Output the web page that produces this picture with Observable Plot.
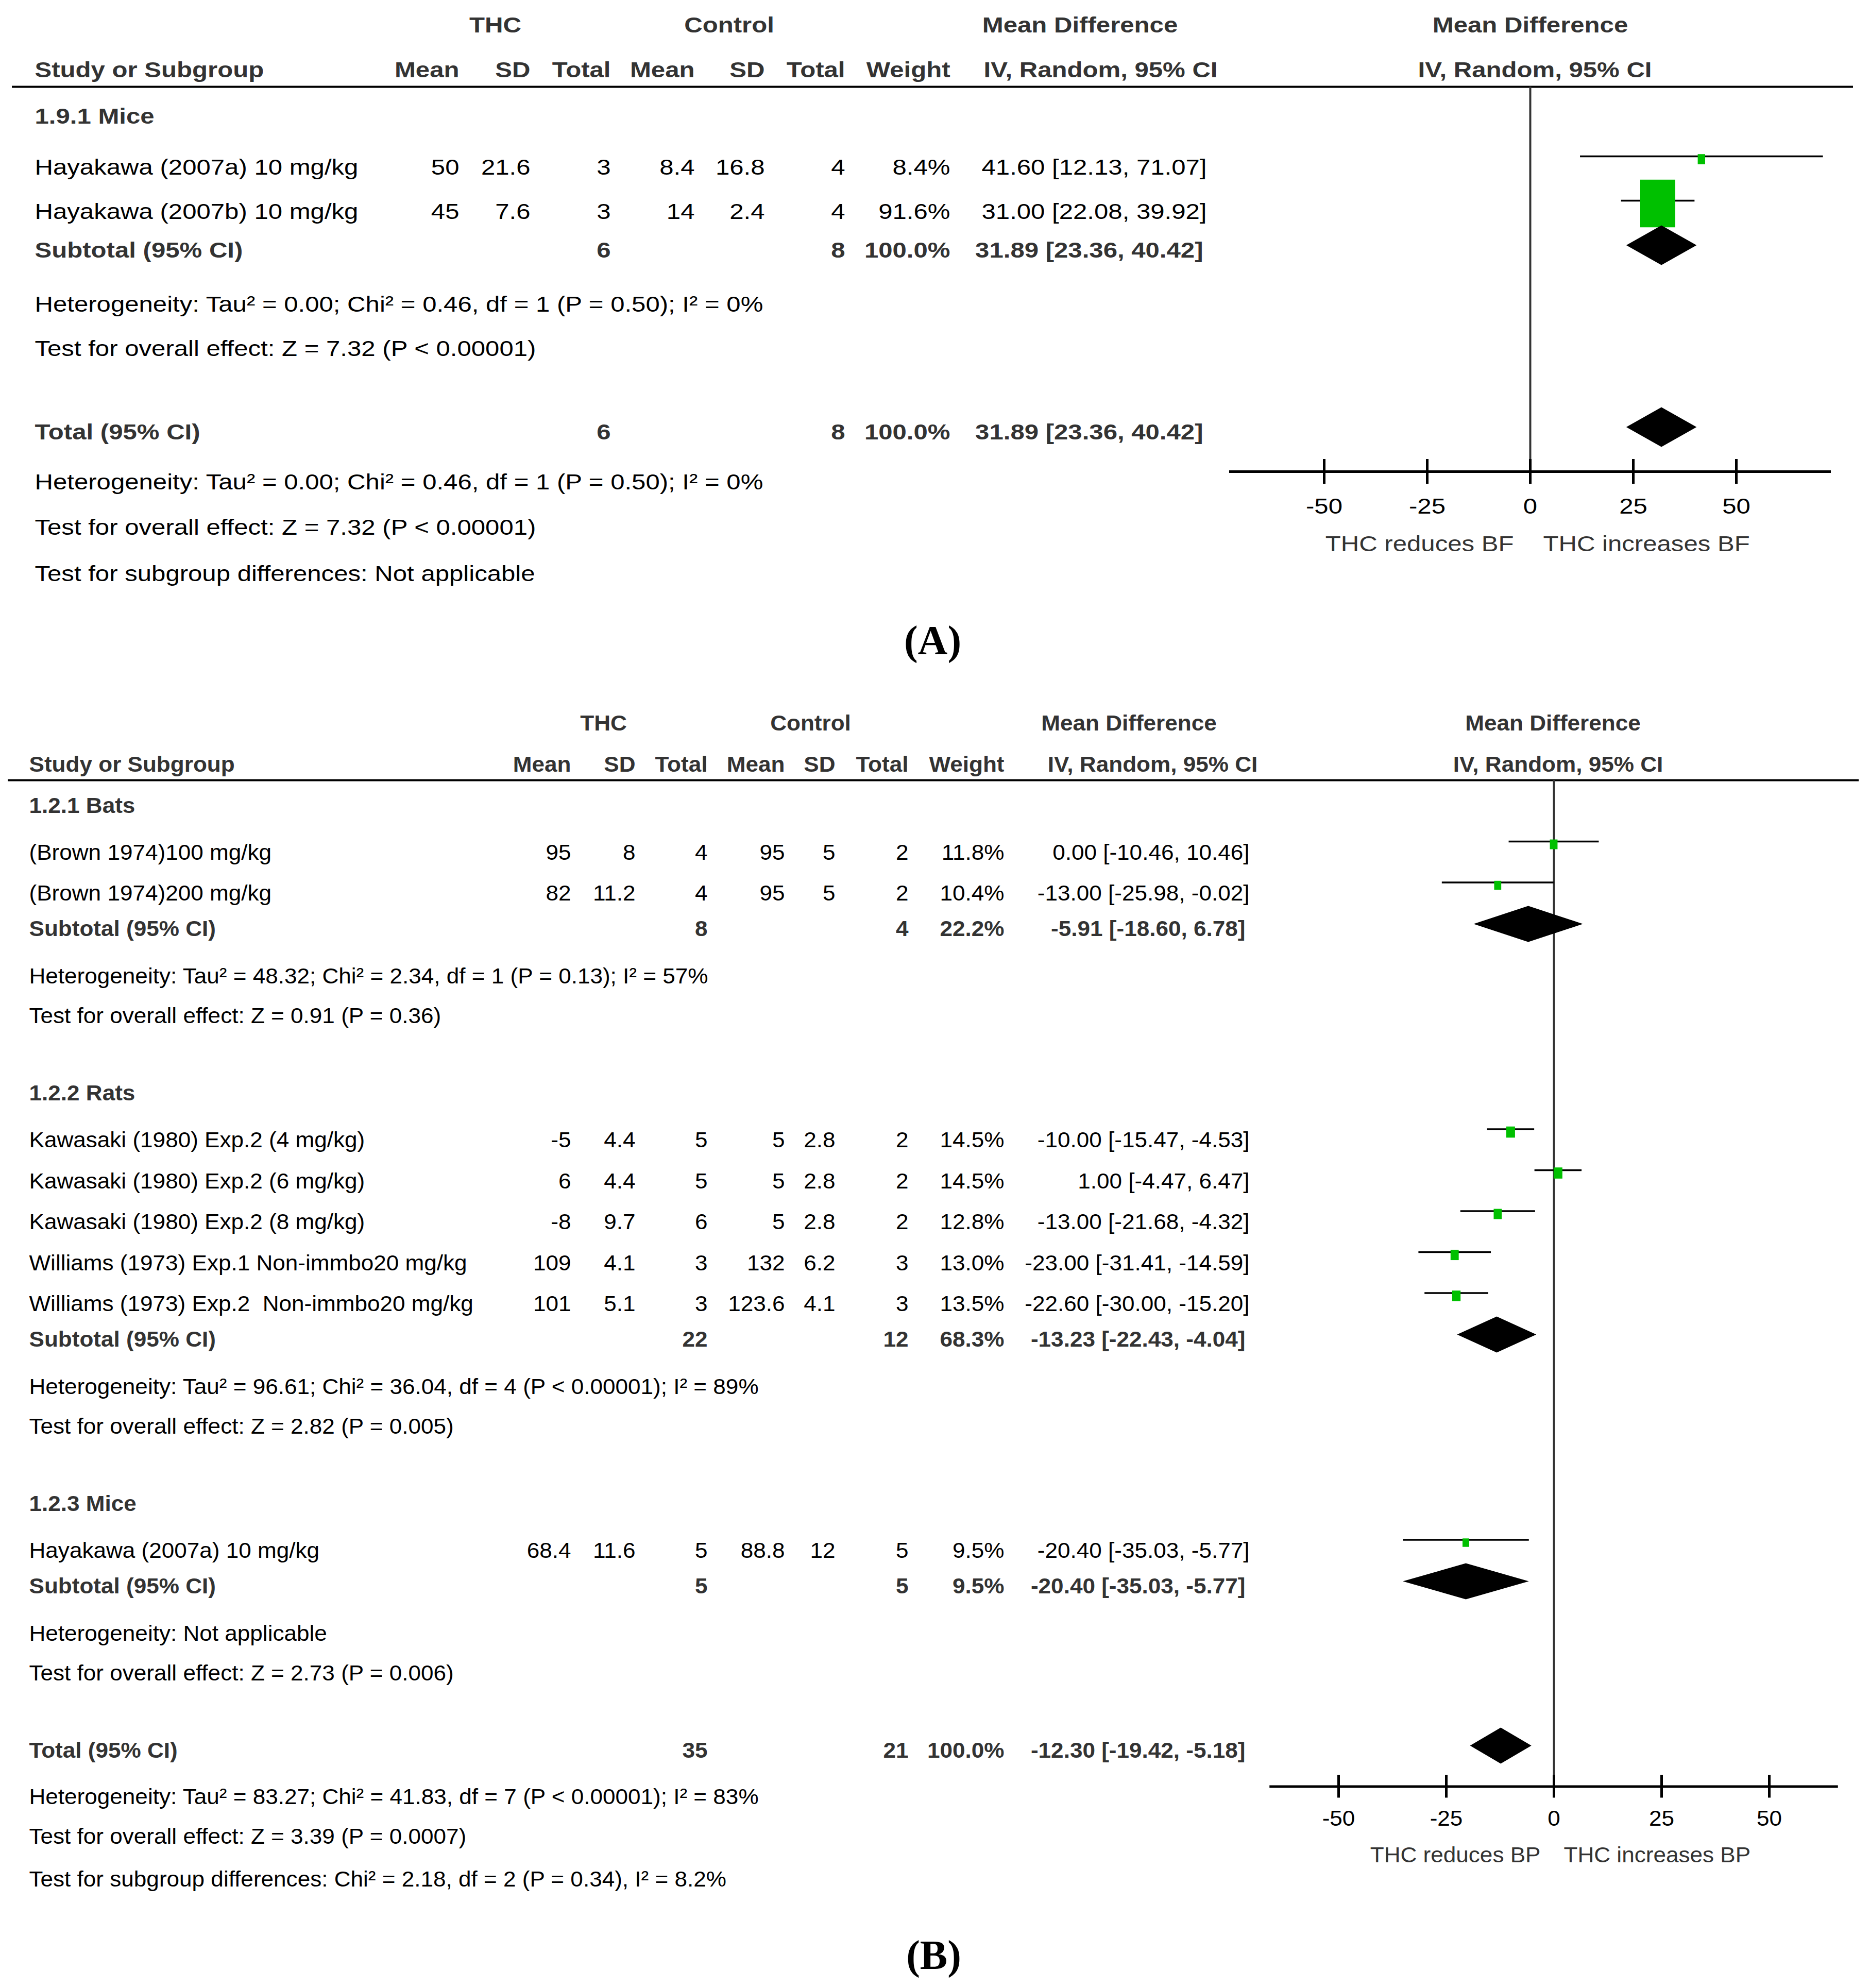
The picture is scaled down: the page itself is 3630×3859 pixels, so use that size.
<!DOCTYPE html>
<html><head><meta charset="utf-8">
<script src="https://cdn.jsdelivr.net/npm/d3@7"></script>
<script src="https://cdn.jsdelivr.net/npm/@observablehq/plot@0.6"></script>
<style>
html,body{margin:0;padding:0;background:#fff;}
#root{width:3630px;height:3859px;position:relative;overflow:hidden;background:#fff}
#root svg{display:block}
svg text{white-space:pre}
</style></head><body><div id="root"></div>
<script>
// ---------------- DATA: panel A (body fat) ----------------
const groupLabelsA = ["1.9.1 Mice"];
const studiesA = ["Hayakawa (2007a) 10 mg/kg", "Hayakawa (2007b) 10 mg/kg"];
const groupA = [0, 0];
const thcMeanA = [50, 45];
const thcSdA = [21.6, 7.6];
const thcNA = [3, 3];
const ctlMeanA = [8.4, 14];
const ctlSdA = [16.8, 2.4];
const ctlNA = [4, 4];
const weightA = [8.4, 91.6];
const mdA = [41.60, 31.00];
const loA = [12.13, 22.08];
const hiA = [71.07, 39.92];
const subThcNA = [6];
const subCtlNA = [8];
const subWeightA = [100.0];
const subMdA = [31.89];
const subLoA = [23.36];
const subHiA = [40.42];
const hetA = ["Heterogeneity: Tau² = 0.00; Chi² = 0.46, df = 1 (P = 0.50); I² = 0%"];
const testA = ["Test for overall effect: Z = 7.32 (P < 0.00001)"];
const totalA = [6, 8, 100.0, 31.89, 23.36, 40.42]; // thcN, ctlN, weight, md, lo, hi
const footA = ["Heterogeneity: Tau² = 0.00; Chi² = 0.46, df = 1 (P = 0.50); I² = 0%",
  "Test for overall effect: Z = 7.32 (P < 0.00001)",
  "Test for subgroup differences: Not applicable"];
const axisLabelsA = ["THC reduces BF", "THC increases BF"];

// ---------------- DATA: panel B (blood pressure) ----------------
const groupLabelsB = ["1.2.1 Bats", "1.2.2 Rats", "1.2.3 Mice"];
const studiesB = ["(Brown 1974)100 mg/kg", "(Brown 1974)200 mg/kg",
  "Kawasaki (1980) Exp.2 (4 mg/kg)", "Kawasaki (1980) Exp.2 (6 mg/kg)", "Kawasaki (1980) Exp.2 (8 mg/kg)",
  "Williams (1973) Exp.1 Non-immbo20 mg/kg", "Williams (1973) Exp.2  Non-immbo20 mg/kg",
  "Hayakawa (2007a) 10 mg/kg"];
const groupB = [0, 0, 1, 1, 1, 1, 1, 2];
const thcMeanB = [95, 82, -5, 6, -8, 109, 101, 68.4];
const thcSdB = [8, 11.2, 4.4, 4.4, 9.7, 4.1, 5.1, 11.6];
const thcNB = [4, 4, 5, 5, 6, 3, 3, 5];
const ctlMeanB = [95, 95, 5, 5, 5, 132, 123.6, 88.8];
const ctlSdB = [5, 5, 2.8, 2.8, 2.8, 6.2, 4.1, 12];
const ctlNB = [2, 2, 2, 2, 2, 3, 3, 5];
const weightB = [11.8, 10.4, 14.5, 14.5, 12.8, 13.0, 13.5, 9.5];
const mdB = [0.00, -13.00, -10.00, 1.00, -13.00, -23.00, -22.60, -20.40];
const loB = [-10.46, -25.98, -15.47, -4.47, -21.68, -31.41, -30.00, -35.03];
const hiB = [10.46, -0.02, -4.53, 6.47, -4.32, -14.59, -15.20, -5.77];
const subThcNB = [8, 22, 5];
const subCtlNB = [4, 12, 5];
const subWeightB = [22.2, 68.3, 9.5];
const subMdB = [-5.91, -13.23, -20.40];
const subLoB = [-18.60, -22.43, -35.03];
const subHiB = [6.78, -4.04, -5.77];
const hetB = ["Heterogeneity: Tau² = 48.32; Chi² = 2.34, df = 1 (P = 0.13); I² = 57%",
  "Heterogeneity: Tau² = 96.61; Chi² = 36.04, df = 4 (P < 0.00001); I² = 89%",
  "Heterogeneity: Not applicable"];
const testB = ["Test for overall effect: Z = 0.91 (P = 0.36)",
  "Test for overall effect: Z = 2.82 (P = 0.005)",
  "Test for overall effect: Z = 2.73 (P = 0.006)"];
const totalB = [35, 21, 100.0, -12.30, -19.42, -5.18];
const footB = ["Heterogeneity: Tau² = 83.27; Chi² = 41.83, df = 7 (P < 0.00001); I² = 83%",
  "Test for overall effect: Z = 3.39 (P = 0.0007)",
  "Test for subgroup differences: Chi² = 2.18, df = 2 (P = 0.34), I² = 8.2%"];
const axisLabelsB = ["THC reduces BP", "THC increases BP"];

const ticks = [-50, -25, 0, 25, 50];
const header1 = ["THC", "Control", "Mean Difference", "Mean Difference"];
const header2 = ["Mean", "SD", "Total", "Mean", "SD", "Total", "Weight"];
const ciHeader = "IV, Random, 95% CI";

// ---------------- LAYOUT ----------------
const FONT = "Liberation Sans, Arial, sans-serif";
const SERIF = "Liberation Serif, Times New Roman, serif";
const GREEN = "#00C000";
const BOLDC = "#333333";

const layoutA = {fs: 42, sx: 1.17, ml: 23, mr: 33, H: 1320, h1: 49, h2: 136, rule: 168, ruleLabel: 58,
  labelStudy: 99, studyStudy: 86, studySub: 75, subHet: 105, hetTest: 86, testLabel: 150,
  testTotal: 162, totalHet: 97, hetTest2: 88, testSub: 90,
  nameX: 67, cols: [891, 1029, 1185, 1348, 1484, 1640, 1844, 2342], boldCiShift: -7,
  thcC: 961, ctlC: 1415, mdC: 2096, ivC: 2136, fC: 2970, fIvC: 2979,
  xr: [2570, 3370], ext: 73, totalAxis: 76, tickLen: 24, tickLab: 68, axLab: 141, axGap: [32, 25],
  ciDy: -22, sqDy: -16, sqMax: 68, sqAspect: 1.36, diaDy: -10, dh: 38.5,
  panelX: 1810, panelY: 1244, panelFs: 80, panelLabel: "(A)"};
const layoutB = {fs: 42, sx: 1.05, ml: 15, mr: 22, H: 2539, h1: 84, h2: 164, rule: 194, ruleLabel: 50,
  labelStudy: 91, studyStudy: 79.5, studySub: 69, subHet: 92, hetTest: 77, testLabel: 150,
  testTotal: 150, totalHet: 90, hetTest2: 77, testSub: 83,
  nameX: 56, cols: [1108, 1233, 1373, 1523, 1621, 1763, 1949, 2425], boldCiShift: -8,
  thcC: 1171, ctlC: 1573, mdC: 2191, ivC: 2237, fC: 3014, fIvC: 3024,
  xr: [2598, 3434], ext: 66, totalAxis: 69, tickLen: 22, tickLab: 63, axLab: 134, axGap: [26, 19],
  ciDy: -22, sqDy: -16, sqMax: 17, sqAspect: 1.27, diaDy: -10, dh: 35,
  panelX: 1812, panelY: 2476, panelFs: 80, panelLabel: "(B)"};

const fmtCI = (m, l, h) => `${m.toFixed(2)} [${l.toFixed(2)}, ${h.toFixed(2)}]`;
const fmtW = (w) => `${w.toFixed(1)}%`;

function makePanel(D, L) {
  const labelRows = [], studyRows = [], subRows = [], noteRows = [];
  let y = L.rule + L.ruleLabel;
  D.groups.forEach((gl, g) => {
    if (g > 0) y += L.testLabel;
    labelRows.push({text: gl, y});
    y += L.labelStudy;
    let first = true;
    D.names.forEach((nm, i) => {
      if (D.group[i] !== g) return;
      if (!first) y += L.studyStudy;
      first = false;
      studyRows.push({name: nm, thcMean: String(D.thcMean[i]), thcSd: String(D.thcSd[i]), thcN: String(D.thcN[i]),
        ctlMean: String(D.ctlMean[i]), ctlSd: String(D.ctlSd[i]), ctlN: String(D.ctlN[i]),
        weight: D.weight[i], weightS: fmtW(D.weight[i]), md: D.md[i], lo: D.lo[i], hi: D.hi[i],
        ciS: fmtCI(D.md[i], D.lo[i], D.hi[i]), y});
    });
    y += L.studySub;
    subRows.push({name: "Subtotal (95% CI)", thcN: String(D.subThcN[g]), ctlN: String(D.subCtlN[g]),
      weightS: fmtW(D.subWeight[g]), md: D.subMd[g], lo: D.subLo[g], hi: D.subHi[g],
      ciS: fmtCI(D.subMd[g], D.subLo[g], D.subHi[g]), y});
    y += L.subHet; noteRows.push({text: D.het[g], y});
    y += L.hetTest; noteRows.push({text: D.test[g], y});
  });
  y += L.testTotal;
  const T = D.total;
  const totalRow = {name: "Total (95% CI)", thcN: String(T[0]), ctlN: String(T[1]), weightS: fmtW(T[2]),
    md: T[3], lo: T[4], hi: T[5], ciS: fmtCI(T[3], T[4], T[5]), y};
  const axisY = y + L.totalAxis;
  y += L.totalHet; noteRows.push({text: D.foot[0], y});
  y += L.hetTest2; noteRows.push({text: D.foot[1], y});
  y += L.testSub; noteRows.push({text: D.foot[2], y});

  const ppu = (L.xr[1] - L.xr[0]) / 100;
  const maxW = d3.max(studyRows, d => d.weight);
  studyRows.forEach(r => { r.w = L.sqMax * Math.pow(r.weight / maxW, 0.65); r.h = r.w * L.sqAspect; });

  const at = (px) => ({frameAnchor: "left", dx: px - L.ml});
  const txt = (data, o) => Plot.text(data, {fontSize: L.fs, fontFamily: FONT, lineAnchor: "middle", ...o});
  const marks = [];

  // header
  marks.push(Plot.ruleY([L.rule], {stroke: "black", strokeWidth: 4}));
  [L.thcC, L.ctlC, L.mdC, L.fC].forEach((px, k) =>
    marks.push(txt([header1[k]], {...at(px), y: () => L.h1, text: d => d, textAnchor: "middle", fontWeight: "bold", fill: BOLDC})));
  marks.push(txt(["Study or Subgroup"], {...at(L.nameX), y: () => L.h2, text: d => d, textAnchor: "start", fontWeight: "bold", fill: BOLDC}));
  header2.forEach((h, k) =>
    marks.push(txt([h], {...at(L.cols[k]), y: () => L.h2, text: d => d, textAnchor: "end", fontWeight: "bold", fill: BOLDC})));
  [L.ivC, L.fIvC].forEach(px =>
    marks.push(txt([ciHeader], {...at(px), y: () => L.h2, text: d => d, textAnchor: "middle", fontWeight: "bold", fill: BOLDC})));

  // subgroup labels
  marks.push(txt(labelRows, {...at(L.nameX), y: "y", text: "text", textAnchor: "start", fontWeight: "bold", fill: BOLDC}));
  // study rows
  marks.push(txt(studyRows, {...at(L.nameX), y: "y", text: "name", textAnchor: "start", fill: "black"}));
  ["thcMean", "thcSd", "thcN", "ctlMean", "ctlSd", "ctlN", "weightS", "ciS"].forEach((f, k) =>
    marks.push(txt(studyRows, {...at(L.cols[k]), y: "y", text: f, textAnchor: "end", fill: "black"})));
  // subtotal & total rows
  const boldRows = [...subRows, totalRow];
  marks.push(txt(boldRows, {...at(L.nameX), y: "y", text: "name", textAnchor: "start", fontWeight: "bold", fill: BOLDC}));
  [["thcN", 2, 0], ["ctlN", 5, 0], ["weightS", 6, 0], ["ciS", 7, L.boldCiShift]].forEach(([f, k, s]) =>
    marks.push(txt(boldRows, {...at(L.cols[k] + s), y: "y", text: f, textAnchor: "end", fontWeight: "bold", fill: BOLDC})));
  // notes
  marks.push(txt(noteRows, {...at(L.nameX), y: "y", text: "text", textAnchor: "start", fill: "black"}));

  // forest: zero line
  marks.push(Plot.ruleX([0], {x: d => d, y1: () => L.rule, y2: () => axisY, stroke: "#333", strokeWidth: 4}));
  // CIs
  marks.push(Plot.ruleY(studyRows, {y: "y", x1: "lo", x2: "hi", dy: L.ciDy, stroke: "black", strokeWidth: 3.5}));
  // squares
  marks.push(Plot.rect(studyRows, {x1: d => d.md - d.w / 2 / ppu, x2: d => d.md + d.w / 2 / ppu,
    y1: d => d.y - d.h / 2, y2: d => d.y + d.h / 2, dy: L.sqDy, fill: GREEN}));
  // diamonds
  const dia = [];
  boldRows.forEach((r, k) => {
    dia.push({k, x: r.lo, y1: r.y, y2: r.y}, {k, x: r.md, y1: r.y - L.dh, y2: r.y + L.dh}, {k, x: r.hi, y1: r.y, y2: r.y});
  });
  marks.push(Plot.areaY(dia, {x: "x", y1: "y1", y2: "y2", z: "k", fill: "black", dy: L.diaDy, curve: "linear"}));
  // axis
  marks.push(Plot.ruleY([axisY], {y: d => d, x1: () => -L.ext, x2: () => L.ext, stroke: "black", strokeWidth: 5}));
  marks.push(Plot.ruleX(ticks, {x: d => d, y1: () => axisY - L.tickLen, y2: () => axisY + L.tickLen, stroke: "black", strokeWidth: 5}));
  marks.push(txt(ticks, {x: d => d, y: () => axisY + L.tickLab, text: d => String(d), textAnchor: "middle", fill: "black"}));
  marks.push(txt([D.axisLabels[0]], {x: () => 0, y: () => axisY + L.axLab, text: d => d, textAnchor: "end", dx: -L.axGap[0], fill: "#333"}));
  marks.push(txt([D.axisLabels[1]], {x: () => 0, y: () => axisY + L.axLab, text: d => d, textAnchor: "start", dx: L.axGap[1], fill: "#333"}));
  // panel label
  marks.push(Plot.text([L.panelLabel], {...at(L.panelX), y: () => L.panelY, text: d => d, textAnchor: "middle", lineAnchor: "middle",
    fontFamily: SERIF, fontWeight: "bold", fontSize: L.panelFs, fill: "black"}));

  const svg = Plot.plot({
    width: 3630, height: L.H,
    marginLeft: L.ml, marginRight: L.mr, marginTop: 0, marginBottom: 0,
    x: {domain: [-50, 50], range: L.xr, axis: null},
    y: {domain: [0, L.H], range: [0, L.H], axis: null},
    style: {background: "white", fontFamily: FONT, overflow: "visible"},
    marks
  });
  svg.querySelectorAll("text").forEach(t => {
    const ff = t.closest("[font-family]");
    if (ff && /Serif/.test(ff.getAttribute("font-family"))) return;
    const tr = t.getAttribute("transform") || "";
    t.setAttribute("transform", tr + ` scale(${L.sx},1)`);
  });
  return svg;
}

const root = document.getElementById("root");
root.appendChild(makePanel({groups: groupLabelsA, names: studiesA, group: groupA, thcMean: thcMeanA, thcSd: thcSdA, thcN: thcNA,
  ctlMean: ctlMeanA, ctlSd: ctlSdA, ctlN: ctlNA, weight: weightA, md: mdA, lo: loA, hi: hiA,
  subThcN: subThcNA, subCtlN: subCtlNA, subWeight: subWeightA, subMd: subMdA, subLo: subLoA, subHi: subHiA,
  het: hetA, test: testA, total: totalA, foot: footA, axisLabels: axisLabelsA}, layoutA));
root.appendChild(makePanel({groups: groupLabelsB, names: studiesB, group: groupB, thcMean: thcMeanB, thcSd: thcSdB, thcN: thcNB,
  ctlMean: ctlMeanB, ctlSd: ctlSdB, ctlN: ctlNB, weight: weightB, md: mdB, lo: loB, hi: hiB,
  subThcN: subThcNB, subCtlN: subCtlNB, subWeight: subWeightB, subMd: subMdB, subLo: subLoB, subHi: subHiB,
  het: hetB, test: testB, total: totalB, foot: footB, axisLabels: axisLabelsB}, layoutB));
</script></body></html>
